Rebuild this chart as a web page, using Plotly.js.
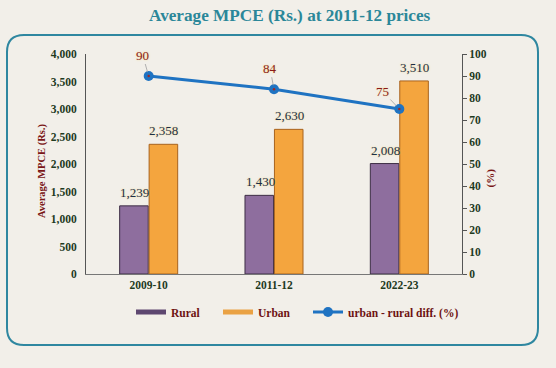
<!DOCTYPE html>
<html>
<head>
<meta charset="utf-8">
<script src="https://cdn.plot.ly/plotly-3.0.1.min.js"></script>
<style>
html,body{margin:0;padding:0;background:#f2efe9;}
#chart{width:556px;height:368px;}
</style>
</head>
<body>
<div id="chart"></div>
<script>
// ---- data ----
const years = ["2009-10", "2011-12", "2022-23"];
const rural = [1239, 1430, 2008];
const urban = [2358, 2630, 3510];
const diffPct = [90, 84, 75];
const ruralLabels = ["1,239", "1,430", "2,008"];
const urbanLabels = ["2,358", "2,630", "3,510"];
const diffLabels = ["90", "84", "75"];

// ---- layout helpers (pixel -> paper) ----
const W = 556, H = 368;
const M = {l: 86, r: 94, t: 54, b: 94};
const pw = W - M.l - M.r, ph = H - M.t - M.b;
const px = x => (x - M.l) / pw;
const py = y => (H - M.b - y) / ph;

function roundedRect(x0, y0, x1, y1, r) {
  const p = (x, y) => px(x) + "," + py(y);
  return "M" + p(x0 + r, y0) + " L" + p(x1 - r, y0) +
    " Q" + p(x1, y0) + " " + p(x1, y0 + r) +
    " L" + p(x1, y1 - r) +
    " Q" + p(x1, y1) + " " + p(x1 - r, y1) +
    " L" + p(x0 + r, y1) +
    " Q" + p(x0, y1) + " " + p(x0, y1 - r) +
    " L" + p(x0, y0 + r) +
    " Q" + p(x0, y0) + " " + p(x0 + r, y0) + " Z";
}

const serif = "Liberation Serif, DejaVu Serif, serif";
const tickFont = {family: serif, size: 11.5, color: "#1e3a1e", weight: "bold"};
const valFont = {family: serif, size: 13, color: "#1c2f4a", shadow: "0px 0px 2px #f5d77a"};
const redFont = {family: serif, size: 13, color: "#8b1a1a", shadow: "0px 0px 2px #f5d77a"};
const legFont = {family: serif, size: 11.5, color: "#6e1212", weight: "bold"};

const traces = [
  {type: "bar", name: "Rural", x: years, y: rural, showlegend: false,
   marker: {color: "#8e6e9e", line: {color: "#3d2e45", width: 1}}, hoverinfo: "none"},
  {type: "bar", name: "Urban", x: years, y: urban, showlegend: false,
   marker: {color: "#f4a53e", line: {color: "#a8631e", width: 1}}, hoverinfo: "none"},
  {type: "scatter", mode: "lines+markers", name: "urban - rural diff. (%)", showlegend: false,
   x: years, y: diffPct, yaxis: "y2",
   line: {color: "#1f73c2", width: 3},
   marker: {color: "#1f73c2", size: 10}, hoverinfo: "none"},
  {type: "scatter", mode: "markers", x: years, y: diffPct, yaxis: "y2", showlegend: false,
   marker: {color: "#9b2a2a", size: 2.5}, hoverinfo: "none"},
  // legend entries
  {type: "scatter", mode: "lines", name: "Rural", x: [null], y: [null], legend: "legend",
   line: {color: "#5e4770", width: 5}, hoverinfo: "none"},
  {type: "scatter", mode: "lines", name: "Urban", x: [null], y: [null], legend: "legend",
   line: {color: "#eaa244", width: 5}, hoverinfo: "none"},
  {type: "scatter", mode: "lines+markers", name: "urban - rural diff. (%)", x: [null], y: [null],
   legend: "legend2",
   line: {color: "#1f73c2", width: 3}, marker: {color: "#1f73c2", size: 10}, hoverinfo: "none"}
];

const annotations = [];
years.forEach((yr, i) => {
  annotations.push({x: yr, y: rural[i], xref: "x", yref: "y", text: ruralLabels[i],
    showarrow: false, xshift: -14, yshift: 4, yanchor: "bottom", font: valFont});
  annotations.push({x: yr, y: urban[i], xref: "x", yref: "y", text: urbanLabels[i],
    showarrow: false, xshift: 15, yshift: 4, yanchor: "bottom", font: valFont});
});
const diffOffsets = [[-6, -21], [-4, -21], [-17, -18]];
years.forEach((yr, i) => {
  annotations.push({x: yr, y: diffPct[i], xref: "x", yref: "y2", text: diffLabels[i],
    showarrow: true, arrowhead: 0, arrowwidth: 0.8, arrowcolor: "#a0a0a0",
    ax: diffOffsets[i][0], ay: diffOffsets[i][1], standoff: 4, font: redFont});
});
annotations.push({xref: "paper", yref: "paper", x: px(34), y: py(171), text: "Average MPCE (Rs.)",
  textangle: -90, showarrow: false, font: {family: serif, size: 10.5, color: "#7a1616", weight: "bold"}});
annotations.push({xref: "paper", yref: "paper", x: px(498), y: py(178), text: "(%)",
  textangle: -90, showarrow: false, font: {family: serif, size: 11, color: "#7a1616", weight: "bold"}});

const layout = {
  width: W, height: H,
  margin: M,
  paper_bgcolor: "#f2efe9", plot_bgcolor: "#f2efe9",
  title: {text: "Average MPCE (Rs.) at 2011-12 prices", x: px(149), xref: "paper", xanchor: "left",
          y: 1 - 15 / H, yref: "container", yanchor: "middle",
          font: {family: serif, size: 17.2, color: "#2b8799", weight: "bold"}},
  barmode: "group", bargap: 0.53, bargroupgap: 0.03,
  showlegend: true,
  legend: {orientation: "h", x: px(131), xanchor: "left", y: py(312), yanchor: "middle",
           font: legFont, bgcolor: "rgba(0,0,0,0)", itemwidth: 30, entrywidth: 42, traceorder: "normal"},
  legend2: {orientation: "h", x: px(308), xanchor: "left", y: py(312), yanchor: "middle",
           font: legFont, bgcolor: "rgba(0,0,0,0)", itemwidth: 30},
  xaxis: {type: "category", showgrid: false, zeroline: false, showline: true, linecolor: "#777", linewidth: 1,
          ticks: "", tickfont: tickFont, fixedrange: true},
  yaxis: {range: [0, 4000], dtick: 500, tickformat: ",d", showgrid: false, zeroline: false,
          showline: true, linecolor: "#555", linewidth: 1, ticks: "", ticklabelstandoff: 6,
          tickfont: tickFont, fixedrange: true},
  yaxis2: {range: [0, 100], dtick: 10, overlaying: "y", side: "right", showgrid: false, zeroline: false,
           showline: true, linecolor: "#555", linewidth: 1, ticks: "outside", ticklen: 4, tickcolor: "#555",
           tickfont: tickFont, fixedrange: true},
  shapes: [{type: "path", xref: "paper", yref: "paper", path: roundedRect(7, 35, 538, 345, 17),
            line: {color: "#2f87a0", width: 2}, fillcolor: "rgba(0,0,0,0)", layer: "below"}],
  annotations: annotations
};

Plotly.newPlot("chart", traces, layout, {displayModeBar: false, staticPlot: true});
</script>
</body>
</html>
